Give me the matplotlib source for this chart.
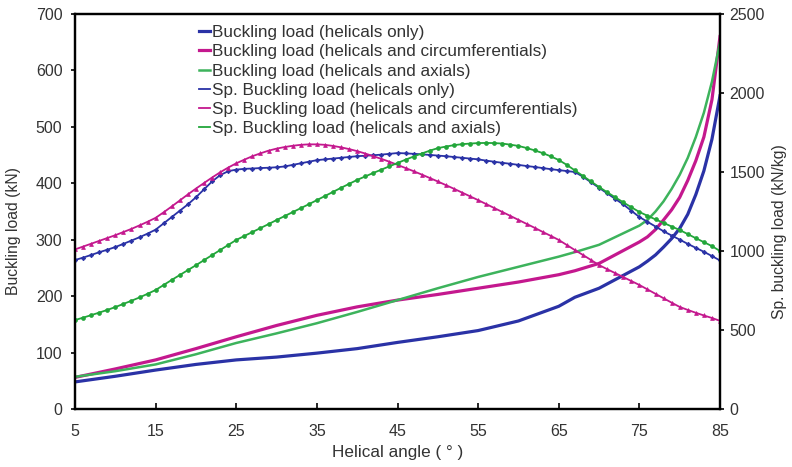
import matplotlib
matplotlib.use("Agg")
import matplotlib.pyplot as plt

plt.rcParams['font.family'] = ['Liberation Sans', 'DejaVu Sans']

# ---- data ----
angles_bl = [5, 10, 15, 20, 25, 30, 35, 40, 45, 50, 55, 60, 65, 67, 70, 75,
             76, 77, 78, 79, 80, 81, 82, 83, 84, 85]
bl_helical = [48, 58, 69, 79, 87, 92, 99, 107, 118, 128, 139, 156, 182, 198, 214, 252,
              262, 273, 287, 302, 320, 345, 380, 422, 478, 555]
bl_circ = [56, 71, 87, 107, 128, 148, 166, 181, 193, 203, 214, 225, 238, 245, 258, 296,
           305, 318, 335, 353, 375, 405, 440, 482, 548, 660]
bl_axial = [57, 67, 79, 97, 117, 134, 152, 172, 193, 214, 234, 252, 270, 278, 291, 325,
            335, 350, 368, 390, 415, 445, 482, 525, 580, 650]

angles_sp = list(range(5, 86))
sp_helical = [943, 958, 975, 992, 1008, 1025, 1045, 1066, 1087, 1110,
              1135, 1175, 1215, 1255, 1295, 1340, 1390, 1440, 1480, 1505,
              1515, 1520, 1522, 1525, 1527, 1530, 1535, 1545, 1555, 1565,
              1575, 1580, 1585, 1590, 1595, 1600, 1603, 1606, 1610, 1615,
              1620, 1618, 1615, 1612, 1608, 1604, 1600, 1595, 1590, 1585,
              1580, 1572, 1565, 1558, 1552, 1545, 1538, 1532, 1525, 1518,
              1512, 1506, 1500, 1470, 1435, 1400, 1365, 1330, 1295, 1255,
              1215, 1185, 1155, 1125, 1098, 1072, 1045, 1020, 995, 968, 940]
sp_circ = [1010, 1028, 1046, 1064, 1082, 1100, 1120, 1140, 1162, 1185,
           1210, 1245, 1282, 1320, 1358, 1395, 1430, 1465, 1498, 1528,
           1555, 1578, 1600, 1618, 1635, 1648, 1658, 1666, 1672, 1675,
           1675, 1672, 1665, 1656, 1645, 1632, 1617, 1600, 1583, 1565,
           1545, 1525, 1505, 1484, 1462, 1440, 1417, 1394, 1370, 1346,
           1322, 1297, 1272, 1247, 1222, 1197, 1172, 1147, 1121, 1096,
           1070, 1038, 1006, 975, 943, 911, 885, 860, 835, 810,
           785, 757, 729, 701, 673, 646, 627, 609, 592, 576, 558]
sp_axial = [563, 578, 594, 610, 627, 645, 665, 685, 706, 729,
            753, 785, 817, 848, 879, 910, 942, 974, 1006, 1038,
            1070, 1095, 1120, 1145, 1170, 1196, 1221, 1246, 1271, 1296,
            1322, 1348, 1374, 1400, 1425, 1450, 1472, 1494, 1515, 1536,
            1557, 1578, 1598, 1617, 1635, 1651, 1661, 1670, 1676, 1680,
            1683, 1684, 1683, 1680, 1673, 1665, 1652, 1637, 1620, 1599,
            1576, 1545, 1510, 1475, 1440, 1405, 1372, 1340, 1308, 1277,
            1247, 1223, 1200, 1178, 1155, 1133, 1107, 1081, 1056, 1031, 1000]

x_ticks = [5, 15, 25, 35, 45, 55, 65, 75, 85]
left_ticks = [0, 100, 200, 300, 400, 500, 600, 700]
right_ticks = [0, 500, 1000, 1500, 2000, 2500]

labels = ["Buckling load (helicals only)",
          "Buckling load (helicals and circumferentials)",
          "Buckling load (helicals and axials)",
          "Sp. Buckling load (helicals only)",
          "Sp. Buckling load (helicals and circumferentials)",
          "Sp. Buckling load (helicals and axials)"]

# ---- style ----
c_blue = '#2a32a6'
c_mag = '#c4188e'
c_green = '#3db35c'
c_green_sp = '#22a63a'
txt = '#333333'

fig = plt.figure(figsize=(7.92, 4.67), dpi=100)
ax = fig.add_axes([75/792, 1 - 409/467, 645/792, 395/467])
ax2 = ax.twinx()

h1, = ax.plot(angles_bl, bl_helical, color=c_blue, lw=2.3)
h2, = ax.plot(angles_bl, bl_circ, color=c_mag, lw=2.3)
h3, = ax.plot(angles_bl, bl_axial, color=c_green, lw=1.8)

h4, = ax2.plot(angles_sp, sp_helical, color=c_blue, lw=1.3, marker='D', ms=2.3,
               markeredgewidth=0.5)
h5, = ax2.plot(angles_sp, sp_circ, color=c_mag, lw=1.3, marker='^', ms=2.8,
               markeredgewidth=0.5)
h6, = ax2.plot(angles_sp, sp_axial, color=c_green_sp, lw=1.3, marker='o', ms=2.8,
               markeredgewidth=0.5)

ax.set_xlim(5, 85)
ax.set_ylim(0, 700)
ax2.set_ylim(0, 2500)
ax.set_xticks(x_ticks)
ax.set_yticks(left_ticks)
ax2.set_yticks(right_ticks)

for a in (ax, ax2):
    for s in a.spines.values():
        s.set_linewidth(1.6)
        s.set_color('black')

ax.tick_params(axis='x', direction='in', length=4, width=1.2, labelsize=11.5,
               labelcolor=txt, pad=11)
ax.tick_params(axis='y', direction='out', length=3, width=1.2, labelsize=11.5,
               labelcolor=txt, pad=6)
ax2.tick_params(axis='y', direction='out', length=3, width=1.2, labelsize=11.5,
                labelcolor=txt, pad=4)

ax.set_xlabel("Helical angle ( ° )", fontsize=12.3, color=txt, labelpad=4)
ax.set_ylabel("Buckling load (kN)", fontsize=11.3, color=txt)
ax2.set_ylabel("Sp. buckling load (kN/kg)", fontsize=11.3, color=txt)
ax.yaxis.set_label_coords(-0.084, 0.45)
ax2.yaxis.set_label_coords(1.08, 0.45)

leg = ax.legend([h1, h2, h3, h4, h5, h6], labels, loc='upper left',
                bbox_to_anchor=(0.193, 0.972), frameon=False, fontsize=12.3,
                handlelength=0.6, handletextpad=0.12, labelspacing=0.25,
                borderaxespad=0, borderpad=0, markerscale=0)
for t in leg.get_texts():
    t.set_color(txt)

fig.savefig("out.png", dpi=100)
